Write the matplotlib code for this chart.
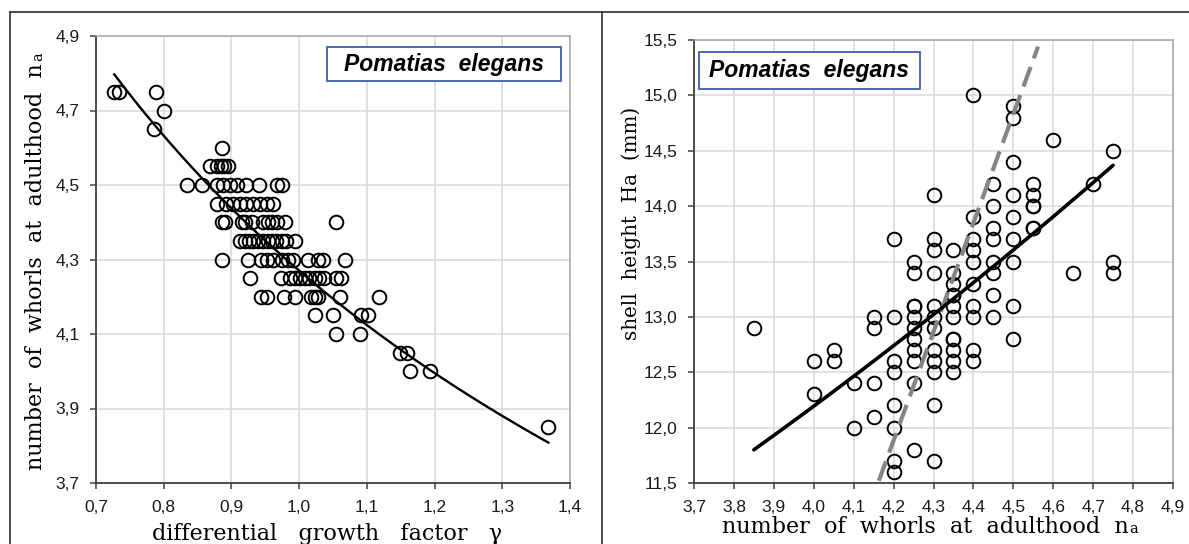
"""Pomatias elegans: whorl number vs growth factor, and shell height vs whorl number."""

import numpy as np
import matplotlib

matplotlib.use("Agg")
import matplotlib.pyplot as plt
from matplotlib.lines import Line2D
from matplotlib.patches import Rectangle
from matplotlib.ticker import FuncFormatter

# left panel: number of whorls (rows) and the growth factors read for each row
LEFT_NA_LEVELS = [4.75, 4.70, 4.65, 4.60, 4.55, 4.50, 4.45, 4.40, 4.35,
                  4.30, 4.25, 4.20, 4.15, 4.10, 4.05, 4.00, 3.85]
LEFT_GAMMA_BY_LEVEL = [
    [0.727, 0.734, 0.788],
    [0.800],
    [0.785],
    [0.886],
    [0.868, 0.878, 0.884, 0.889, 0.895],
    [0.835, 0.856, 0.878, 0.888, 0.898, 0.908, 0.921, 0.941, 0.967, 0.974],
    [0.879, 0.892, 0.902, 0.912, 0.921, 0.932, 0.942, 0.952, 0.962],
    [0.886, 0.891, 0.915, 0.920, 0.930, 0.947, 0.954, 0.960, 0.967, 0.979, 1.055],
    [0.912, 0.920, 0.926, 0.932, 0.939, 0.947, 0.954, 0.960, 0.966, 0.974, 0.981, 0.994],
    [0.886, 0.924, 0.944, 0.953, 0.962, 0.975, 0.984, 0.991, 1.013, 1.028, 1.035, 1.067],
    [0.927, 0.973, 0.987, 0.994, 1.001, 1.008, 1.015, 1.023, 1.030, 1.037, 1.054, 1.062],
    [0.944, 0.953, 0.978, 0.994, 1.017, 1.024, 1.028, 1.060, 1.118],
    [1.024, 1.050, 1.091, 1.102],
    [1.054, 1.090],
    [1.149, 1.160],
    [1.164, 1.193],
    [1.368],
]
# power trendline  na = A * gamma^B  (as drawn in the source)
LEFT_TREND_A = 4.27
LEFT_TREND_B = -0.365

# right panel: number of whorls (columns) and shell heights (mm) read for each
RIGHT_NA_LEVELS = [3.85, 4.00, 4.05, 4.10, 4.15, 4.20, 4.25, 4.30, 4.35,
                   4.40, 4.45, 4.50, 4.55, 4.60, 4.65, 4.70, 4.75]
RIGHT_HEIGHT_BY_LEVEL = [
    [12.9],
    [12.6, 12.3],
    [12.7, 12.6],
    [12.4, 12.0],
    [13.0, 12.9, 12.4, 12.1],
    [13.7, 13.0, 12.6, 12.5, 12.2, 12.0, 11.7, 11.6],
    [13.5, 13.4, 13.1, 13.1, 13.0, 12.9, 12.8, 12.7, 12.6, 12.4, 11.8],
    [14.1, 13.7, 13.6, 13.4, 13.1, 13.0, 12.9, 12.7, 12.6, 12.5, 12.2, 11.7],
    [13.6, 13.4, 13.3, 13.2, 13.2, 13.1, 13.0, 12.8, 12.8, 12.7, 12.6, 12.5],
    [15.0, 13.9, 13.7, 13.6, 13.5, 13.3, 13.1, 13.0, 12.7, 12.6],
    [14.2, 14.0, 13.8, 13.7, 13.5, 13.4, 13.2, 13.0],
    [14.9, 14.8, 14.4, 14.1, 13.9, 13.7, 13.5, 13.1, 12.8],
    [14.2, 14.1, 14.0, 14.0, 13.8, 13.8],
    [14.6],
    [13.4],
    [14.2],
    [14.5, 13.5, 13.4],
]
# exponential trendline  Ha = A * exp(K * na)
RIGHT_TREND_A = 5.08
RIGHT_TREND_K = 0.2189
# dashed line (regression of na on Ha), end points as drawn
DASHED_NA = [4.163, 4.562]
DASHED_HEIGHT = [11.52, 15.44]

LEFT_XTICKS = [0.7, 0.8, 0.9, 1.0, 1.1, 1.2, 1.3, 1.4]
LEFT_YTICKS = [3.7, 3.9, 4.1, 4.3, 4.5, 4.7, 4.9]
RIGHT_XTICKS = [3.7, 3.8, 3.9, 4.0, 4.1, 4.2, 4.3, 4.4, 4.5, 4.6, 4.7, 4.8, 4.9]
RIGHT_YTICKS = [11.5, 12.0, 12.5, 13.0, 13.5, 14.0, 14.5, 15.0, 15.5]

LEGEND_TEXT = "Pomatias  elegans"
SERIF = ["DejaVu Serif", "Liberation Serif"]
SANS = ["Liberation Sans", "DejaVu Sans"]
LABEL_SIZE = 16
SUB_SIZE = 10.5
TICK_SIZE = 12.5
W_PX, H_PX = 1189, 544


def flatten(levels, values_by_level):
    xs, ys = [], []
    for level, values in zip(levels, values_by_level):
        for value in values:
            xs.append(level)
            ys.append(value)
    return np.array(xs), np.array(ys)


def comma(value, _pos):
    return f"{value:.1f}".replace(".", ",")


def style_axes(ax, xticks, yticks):
    ax.set_xlim(xticks[0], xticks[-1])
    ax.set_ylim(yticks[0], yticks[-1])
    ax.set_xticks(xticks)
    ax.set_yticks(yticks)
    ax.xaxis.set_major_formatter(FuncFormatter(comma))
    ax.yaxis.set_major_formatter(FuncFormatter(comma))
    ax.grid(True, color="#d9d9d9", linewidth=1.1, zorder=0)
    ax.set_axisbelow(True)
    for side in ["top", "right"]:
        ax.spines[side].set_color("#a6a6a6")
        ax.spines[side].set_linewidth(1.1)
    for side in ["left", "bottom"]:
        ax.spines[side].set_color("#404040")
        ax.spines[side].set_linewidth(1.3)
    ax.tick_params(axis="both", direction="out", length=4, width=1.1, color="#404040",
                   labelsize=TICK_SIZE, labelcolor="#1a1a1a")
    ax.tick_params(axis="x", pad=8)
    ax.tick_params(axis="y", pad=8)
    for label in ax.get_xticklabels() + ax.get_yticklabels():
        label.set_family(SANS)


def add_species_box(ax, x0, y0, w, h):
    ax.add_patch(Rectangle((x0, y0), w, h, transform=ax.transAxes, facecolor="white",
                           edgecolor="#3b5ea8", linewidth=1.3, zorder=5))
    ax.text(x0 + w / 2, y0 + h / 2, LEGEND_TEXT, transform=ax.transAxes, ha="center",
            va="center", fontsize=16.5, fontweight="bold", fontstyle="italic",
            family=SANS, zorder=6)


def add_label(fig, x_px, y_px, main, sub, vertical=False, size=LABEL_SIZE):
    rot = 90 if vertical else 0
    text = fig.text(x_px / W_PX, 1 - y_px / H_PX, main, rotation=rot, rotation_mode="anchor",
                    ha="left", va="baseline", family=SERIF, fontsize=size)
    if not sub:
        return
    fig.canvas.draw()
    bb = text.get_window_extent()
    if vertical:
        fig.text(x_px / W_PX, (bb.y1 + 2) / H_PX, sub, rotation=90, rotation_mode="anchor",
                 ha="left", va="baseline", family=SERIF, fontsize=SUB_SIZE)
    else:
        fig.text((bb.x1 + 1) / W_PX, 1 - y_px / H_PX, sub, ha="left", va="baseline",
                 family=SERIF, fontsize=SUB_SIZE)


def main() -> None:
    fig = plt.figure(figsize=(W_PX / 100, H_PX / 100), dpi=100)

    # left panel
    na_left, gamma = flatten(LEFT_NA_LEVELS, LEFT_GAMMA_BY_LEVEL)
    ax1 = fig.add_axes([96 / W_PX, 61 / H_PX, 474 / W_PX, 447 / H_PX])
    style_axes(ax1, LEFT_XTICKS, LEFT_YTICKS)
    ax1.plot(gamma, na_left, linestyle="none", marker="o", markersize=9.8,
             markerfacecolor="none", markeredgecolor="black", markeredgewidth=1.4, zorder=3)
    gx = np.linspace(gamma.min(), gamma.max(), 200)
    ax1.plot(gx, LEFT_TREND_A * gx ** LEFT_TREND_B, color="black", linewidth=1.7, zorder=4)
    add_species_box(ax1, 0.487, 0.899, 0.494, 0.076)

    # right panel
    na_right, height = flatten(RIGHT_NA_LEVELS, RIGHT_HEIGHT_BY_LEVEL)
    ax2 = fig.add_axes([694 / W_PX, 61 / H_PX, 479 / W_PX, 443 / H_PX])
    style_axes(ax2, RIGHT_XTICKS, RIGHT_YTICKS)
    ax2.plot(na_right, height, linestyle="none", marker="o", markersize=9.8,
             markerfacecolor="none", markeredgecolor="black", markeredgewidth=1.4, zorder=3)
    ax2.plot(DASHED_NA, DASHED_HEIGHT, color="#858585", linewidth=3.0, dashes=(5.0, 2.2),
             zorder=4)
    nx = np.linspace(na_right.min(), na_right.max(), 200)
    ax2.plot(nx, RIGHT_TREND_A * np.exp(RIGHT_TREND_K * nx), color="black", linewidth=2.6,
             solid_capstyle="round", zorder=5)
    add_species_box(ax2, 0.0104, 0.889, 0.461, 0.0835)

    # outer table frame
    frame = dict(color="#404040", linewidth=1.3, transform=fig.transFigure)
    top = 1 - 12 / H_PX
    fig.add_artist(Line2D([10 / W_PX, 1], [top, top], **frame))
    fig.add_artist(Line2D([10 / W_PX, 10 / W_PX], [0, top], **frame))
    fig.add_artist(Line2D([602 / W_PX, 602 / W_PX], [0, top], **frame))

    add_label(fig, 152, 540, "differential   growth   factor   \u03b3", "")
    add_label(fig, 42, 470, "number  of  whorls  at  adulthood  n", "a", vertical=True)
    add_label(fig, 722, 533, "number  of  whorls  at  adulthood  n", "a")
    add_label(fig, 637, 340, "shell  height  Ha  (mm)", "", vertical=True, size=14.3)

    fig.savefig("out.png", dpi=100)
    plt.close(fig)


if __name__ == "__main__":
    main()
